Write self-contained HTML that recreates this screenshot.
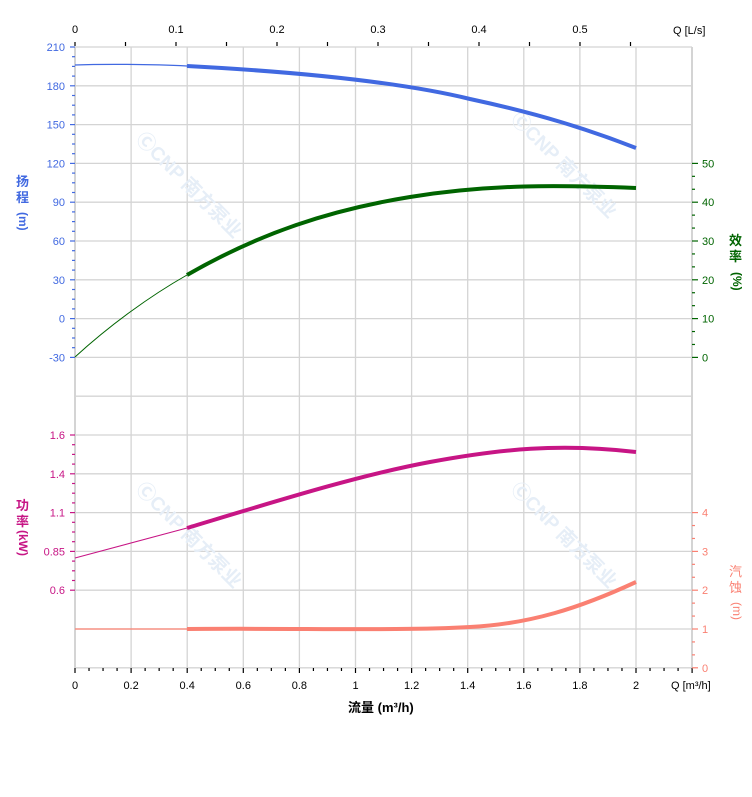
<!DOCTYPE html>
<html><head><meta charset="utf-8"><style>
html,body{margin:0;padding:0;background:#fff;width:752px;height:797px;overflow:hidden}
svg{display:block;font-family:"Liberation Sans","Noto Sans CJK SC",sans-serif}
</style></head><body>
<svg id="s" width="752" height="797" viewBox="0 0 752 797" xmlns="http://www.w3.org/2000/svg">
<g id="grid" stroke="#d4d4d4" stroke-width="1.3" fill="none"></g>
<g id="ticks" stroke-width="1.2"></g>
<g id="labels" font-size="11"></g>
<g fill="#e6eef7" font-size="19" font-weight="bold">
<text transform="translate(135,140) rotate(45)">ⒸCNP 南方泵业</text>
<text transform="translate(510,120) rotate(45)">ⒸCNP 南方泵业</text>
<text transform="translate(135,490) rotate(45)">ⒸCNP 南方泵业</text>
<text transform="translate(510,490) rotate(45)">ⒸCNP 南方泵业</text>
</g>
<path d="M75,65 C100,64 150,64 187,66" stroke="#4169e1" stroke-width="1.2" fill="none"/>
<path d="M187,66 C300,72 400,82 470,99 C540,114 590,130 636,148" stroke="#4169e1" stroke-width="4" fill="none"/>
<path d="M75,357 C110,325 150,296 187,275" stroke="#006400" stroke-width="1" fill="none"/>
<path d="M187,275 C260,233 330,210 410,197 C490,184 560,185 636,188" stroke="#006400" stroke-width="4" fill="none"/>
<path d="M75,558 L187,528" stroke="#c71585" stroke-width="1" fill="none"/>
<path d="M187,528 C280,500 360,475 430,462 C500,449 560,443 636,452" stroke="#c71585" stroke-width="4" fill="none"/>
<path d="M75,629 L187,629" stroke="#fa8072" stroke-width="1.2" fill="none"/>
<path d="M187,629 C300,628 400,631 470,627 C530,624 580,608 636,582" stroke="#fa8072" stroke-width="4" fill="none"/>
<g font-weight="bold" font-size="13">
<text x="16" y="186" fill="#4169e1">扬</text><text x="16" y="202" fill="#4169e1">程</text>
<text x="19" y="212" fill="#4169e1" transform="rotate(90 19 212)" font-size="12">(m)</text>
<text x="729" y="245" fill="#006400">效</text><text x="729" y="261" fill="#006400">率</text>
<text x="733" y="272" fill="#006400" transform="rotate(90 733 272)" font-size="12">(%)</text>
<text x="16" y="510" fill="#c71585">功</text><text x="16" y="526" fill="#c71585">率</text>
<text x="19" y="530" fill="#c71585" transform="rotate(90 19 530)" font-size="12">(kW)</text>
</g>
<g font-size="13" fill="#fa8072">
<text x="729" y="576">汽</text><text x="729" y="592">蚀</text>
<text x="733" y="602" transform="rotate(90 733 602)" font-size="12">(m)</text>
</g>
<text x="348" y="712" font-size="13" font-weight="bold" fill="#000">流量 (m³/h)</text>
<text x="671" y="689" font-size="11" fill="#000">Q [m³/h]</text>
<text x="673" y="34" font-size="11" fill="#000">Q [L/s]</text>
</svg>
<script>
var NS="http://www.w3.org/2000/svg";
function el(p,t,a,txt){var e=document.createElementNS(NS,t);for(var k in a)e.setAttribute(k,a[k]);if(txt!==undefined)e.textContent=txt;document.getElementById(p).appendChild(e);return e;}
var X0=75,XR=692,YT=47,YB=668,px=280.5,dy=38.8;
for(var i=0;i<=11;i++){var x=X0+i*px*0.2;el("grid","line",{x1:x,y1:YT,x2:x,y2:YB});}
for(var j=0;j<=16;j++){var y=YT+j*dy;el("grid","line",{x1:X0,y1:y,x2:XR,y2:y});}
el("ticks","line",{x1:X0,y1:YT,x2:X0,y2:YB,stroke:"#d4d4d4","stroke-width":2});
el("ticks","line",{x1:XR,y1:YT,x2:XR,y2:YB,stroke:"#d4d4d4","stroke-width":2});
for(var k=0;k<=11;k++){var x=X0+k*50.5;el("ticks","line",{x1:x,y1:42,x2:x,y2:46,stroke:"#000"});}
for(var k=0;k<=5;k++){el("labels","text",{x:X0+k*101,y:33,"text-anchor":"middle",fill:"#000"},k==0?"0":("0."+k));}
for(var k=0;k<=44;k++){var x=X0+k*px*0.05;el("ticks","line",{x1:x,y1:YB,x2:x,y2:YB+(k%4==0?5:3),stroke:"#000"});}
var bl=["0","0.2","0.4","0.6","0.8","1","1.2","1.4","1.6","1.8","2"];
for(var k=0;k<bl.length;k++){el("labels","text",{x:X0+k*px*0.2,y:689,"text-anchor":"middle",fill:"#000"},bl[k]);}
var hv=[210,180,150,120,90,60,30,0,-30];
for(var k=0;k<hv.length;k++){var y=YT+k*dy;el("ticks","line",{x1:70,y1:y,x2:75,y2:y,stroke:"#4169e1"});el("labels","text",{x:65,y:y+4,"text-anchor":"end",fill:"#4169e1"},hv[k]);
 if(k<hv.length-1)for(var m=1;m<4;m++)el("ticks","line",{x1:72,y1:y+m*dy/4,x2:75,y2:y+m*dy/4,stroke:"#4169e1"});}
var pv=["1.6","1.4","1.1","0.85","0.6"];
for(var k=0;k<pv.length;k++){var y=YT+10*dy+k*dy;el("ticks","line",{x1:70,y1:y,x2:75,y2:y,stroke:"#c71585"});el("labels","text",{x:65,y:y+4,"text-anchor":"end",fill:"#c71585"},pv[k]);
 if(k<pv.length-1)for(var m=1;m<4;m++)el("ticks","line",{x1:72,y1:y+m*dy/4,x2:75,y2:y+m*dy/4,stroke:"#c71585"});}
for(var k=0;k<=5;k++){var y=YT+3*dy+k*dy;el("ticks","line",{x1:692,y1:y,x2:698,y2:y,stroke:"#006400"});el("labels","text",{x:702,y:y+4,fill:"#006400"},50-k*10);
 if(k<5)for(var m=1;m<3;m++)el("ticks","line",{x1:692,y1:y+m*dy/3,x2:695,y2:y+m*dy/3,stroke:"#006400"});}
for(var k=0;k<=4;k++){var y=YT+12*dy+k*dy;el("ticks","line",{x1:692,y1:y,x2:698,y2:y,stroke:"#fa8072"});el("labels","text",{x:702,y:y+4,fill:"#fa8072"},4-k);
 if(k<4)for(var m=1;m<3;m++)el("ticks","line",{x1:692,y1:y+m*dy/3,x2:695,y2:y+m*dy/3,stroke:"#fa8072"});}
</script>
</body></html>
